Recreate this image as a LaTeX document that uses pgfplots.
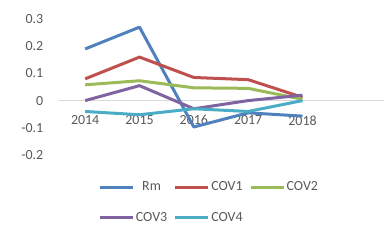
\documentclass[border=0pt]{standalone}
\usepackage{pgfplots}
\pgfplotsset{compat=1.18}
\usepackage{fontspec}
\setmainfont{Carlito}
\definecolor{cRm}{HTML}{4F81BD}
\definecolor{cA}{HTML}{C0504D}
\definecolor{cB}{HTML}{9BBB59}
\definecolor{cC}{HTML}{8064A2}
\definecolor{cD}{HTML}{4BACC6}
\definecolor{txt}{HTML}{595959}
\definecolor{axc}{HTML}{D9D9D9}
\begin{document}
\begin{tikzpicture}
\useasboundingbox (0,0) rectangle (392bp,245bp);
\begin{axis}[
  at={(58bp,90bp)}, anchor=south west,
  scale only axis, width=326bp, height=136bp,
  xmin=-0.5, xmax=5.5, ymin=-0.2, ymax=0.3,
  axis line style={draw=none},
  xtick={0,1,2,3,4}, xticklabels={2014,2015,2016,2017,2018},
  ytick={-0.2,-0.1,0,0.1,0.2,0.3},
  yticklabels={-0.2,-0.1,0,0.1,0.2,0.3},
  extra y ticks={0}, extra y tick labels={},
  extra y tick style={grid=major, major grid style={draw=axc, line width=0.8bp}},
  major tick length=0,
  tick label style={font=\fontsize{14}{16}\selectfont, text=txt},
  xticklabel style={anchor=north, yshift=43bp},
  yticklabel style={anchor=east, inner sep=0pt, xshift=-14.5bp},
  legend columns=3,
  legend style={at={(0.463,-0.349)}, anchor=center, draw=none, fill=none,
    font=\fontsize{14}{16}\selectfont, text=txt,
    nodes={inner sep=1.5bp},
    row sep=17bp,
    /tikz/every even column/.append style={column sep=5bp}},
  legend image code/.code={\draw[#1, line width=3bp] (0bp,0bp) -- (33bp,0bp);},
  every axis plot/.append style={line width=3bp, line join=round, mark=none},
]
\addplot[cRm] coordinates {(0,0.19)(1,0.27)(2,-0.097)(3,-0.045)(4,-0.057)};
\addplot[cA] coordinates {(0,0.08)(1,0.16)(2,0.085)(3,0.077)(4,0.012)};
\addplot[cB] coordinates {(0,0.058)(1,0.073)(2,0.047)(3,0.045)(4,0.005)};
\addplot[cC] coordinates {(0,0.0)(1,0.055)(2,-0.03)(3,0.0)(4,0.02)};
\addplot[cD] coordinates {(0,-0.04)(1,-0.052)(2,-0.03)(3,-0.04)(4,0.0)};
\legend{Rm,COV1,COV2,COV3,COV4}
\end{axis}
\end{tikzpicture}
\end{document}
